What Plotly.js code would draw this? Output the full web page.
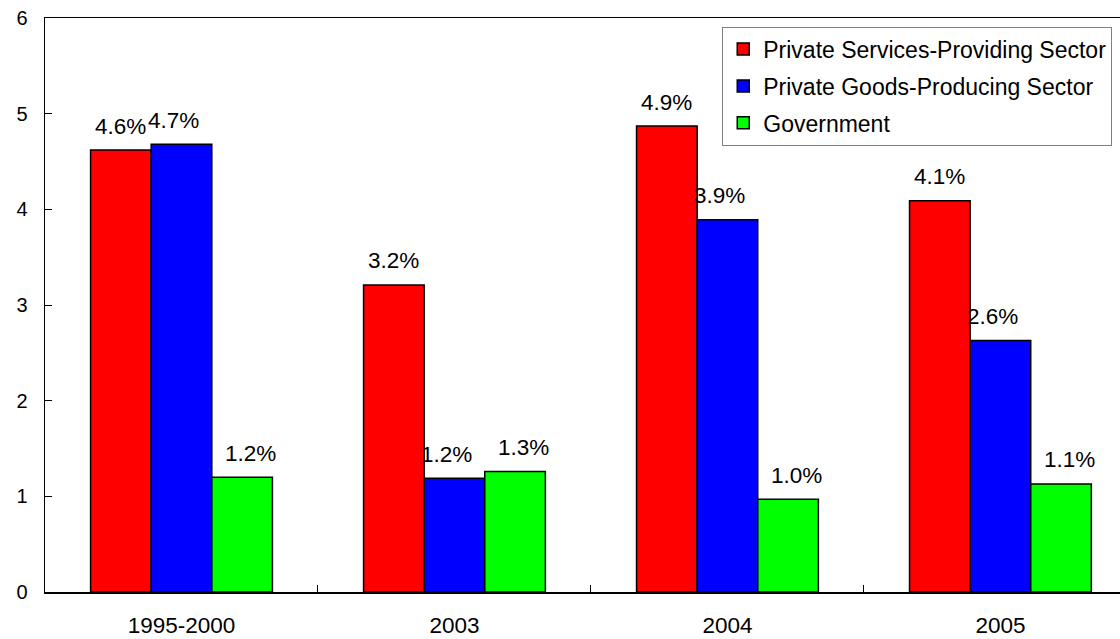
<!DOCTYPE html>
<html>
<head>
<meta charset="utf-8">
<script src="https://cdn.plot.ly/plotly-3.0.1.min.js"></script>
<style>html,body{margin:0;padding:0;background:#fff;}#chart{width:1120px;height:639px;}</style>
</head>
<body>
<div id="chart"></div>
<script>
const categories = ["1995-2000", "2003", "2004", "2005"];
const seriesNames = ["Private Services-Providing Sector", "Private Goods-Producing Sector", "Government"];
const servicesValues = [4.62, 3.21, 4.87, 4.09];
const goodsValues = [4.68, 1.19, 3.89, 2.63];
const governmentValues = [1.20, 1.26, 0.97, 1.13];
const servicesLabels = ["4.6%", "3.2%", "4.9%", "4.1%"];
const goodsLabels = ["4.7%", "1.2%", "3.9%", "2.6%"];
const governmentLabels = ["1.2%", "1.3%", "1.0%", "1.1%"];
const yTicks = [0, 1, 2, 3, 4, 5, 6];

const colors = ["#ff0000", "#0000ff", "#00ff00"];
const FONT = "Liberation Sans, Arial, sans-serif";

const allValues = [servicesValues, goodsValues, governmentValues];
const allLabels = [servicesLabels, goodsLabels, governmentLabels];

const traces = allValues.map((vals, k) => ({
  type: "bar",
  name: seriesNames[k],
  x: categories,
  y: vals,
  legendgroup: "g" + k,
  marker: { color: colors[k], line: { color: "#000", width: 1.5 } },
  hoverinfo: "x+y+name"
}));

// label positions relative to bar groups (styling offsets)
const barGap = 0.334;
const barW = (1 - barGap) / 3;
const labelShiftPx = [0, -8, 8];
const annotations = [];
allValues.forEach((vals, k) => {
  vals.forEach((v, i) => {
    annotations.push({
      x: i + (k - 1) * barW,
      y: v,
      xref: "x", yref: "y",
      text: allLabels[k][i],
      showarrow: false,
      xanchor: "center",
      yanchor: "middle",
      xshift: labelShiftPx[k],
      yshift: 24,
      font: { family: FONT, size: 22.5, color: "#000" }
    });
  });
});

const layout = {
  width: 1120,
  height: 639,
  margin: { l: 45, r: 0, t: 18, b: 47, pad: 0 },
  paper_bgcolor: "#fff",
  plot_bgcolor: "#fff",
  barmode: "group",
  bargap: barGap,
  bargroupgap: 0,
  showlegend: true,
  legend: {
    x: 0.630, y: 0.985, xanchor: "left", yanchor: "top",
    bgcolor: "#fff",
    bordercolor: "#808080",
    borderwidth: 1,
    traceorder: "grouped",
    tracegroupgap: 4,
    font: { family: FONT, size: 23, color: "#000" }
  },
  xaxis: {
    type: "category",
    range: [-0.5, 3.438],
    showline: true,
    linecolor: "#000",
    linewidth: 1.5,
    mirror: true,
    ticks: "inside",
    tickson: "boundaries",
    ticklen: 7,
    tickcolor: "#000",
    tickwidth: 1,
    showgrid: false,
    zeroline: false,
    ticklabelstandoff: 12,
    tickfont: { family: FONT, size: 22.5, color: "#000" }
  },
  yaxis: {
    range: [0, 6],
    tickvals: yTicks,
    ticktext: yTicks.map(String),
    showline: true,
    linecolor: "#000",
    linewidth: 1.5,
    ticks: "inside",
    ticklen: 7,
    tickcolor: "#000",
    tickwidth: 1,
    showgrid: false,
    zeroline: false,
    ticklabelstandoff: 12,
    tickfont: { family: FONT, size: 20, color: "#000" }
  },
  annotations: annotations
};

Plotly.newPlot("chart", traces, layout, { displayModeBar: false, staticPlot: true });
</script>
</body>
</html>
